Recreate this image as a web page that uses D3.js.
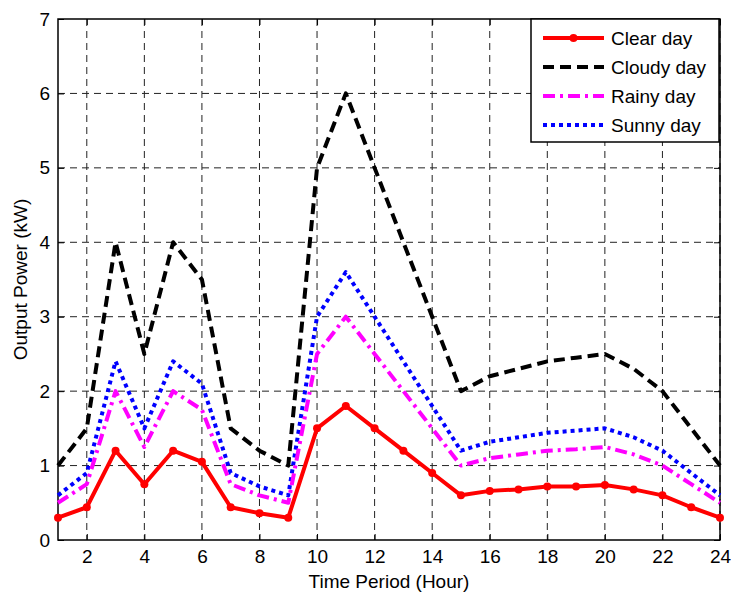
<!DOCTYPE html>
<html>
<head>
<meta charset="utf-8">
<script src="https://cdn.jsdelivr.net/npm/d3@7"></script>
<style>
  body { margin: 0; background: #fff; }
  text { font-family: "Liberation Sans", Arial, sans-serif; }
</style>
</head>
<body>
<div id="chart"></div>
<script>
// hours on the x axis
const hours = d3.range(1, 25);

const clearDay  = [0.3, 0.44, 1.2, 0.75, 1.2, 1.05, 0.44, 0.36, 0.3, 1.5, 1.8, 1.5, 1.2, 0.9, 0.6, 0.66, 0.68, 0.72, 0.72, 0.74, 0.68, 0.6, 0.44, 0.3];
const cloudyDay = [1.0, 1.5, 4.0, 2.5, 4.0, 3.5, 1.5, 1.2, 1.0, 5.0, 6.0, 5.0, 4.0, 3.0, 2.0, 2.2, 2.3, 2.4, 2.45, 2.5, 2.3, 2.0, 1.5, 1.0];
const rainyDay  = [0.5, 0.75, 2.0, 1.25, 2.0, 1.75, 0.75, 0.6, 0.5, 2.5, 3.0, 2.5, 2.0, 1.5, 1.0, 1.1, 1.15, 1.2, 1.22, 1.25, 1.15, 1.0, 0.75, 0.5];
const sunnyDay  = [0.6, 0.9, 2.4, 1.5, 2.4, 2.1, 0.9, 0.72, 0.6, 3.0, 3.6, 3.0, 2.4, 1.8, 1.2, 1.32, 1.38, 1.44, 1.47, 1.5, 1.38, 1.2, 0.9, 0.6];

const xTicks = [2, 4, 6, 8, 10, 12, 14, 16, 18, 20, 22, 24];
const yTicks = [0, 1, 2, 3, 4, 5, 6, 7];

const series = [
    {name: "Clear day",  values: clearDay,  color: "#ff0000", dash: null,       width: 4, marker: true},
    {name: "Cloudy day", values: cloudyDay, color: "#000000", dash: "11,6",     width: 4, marker: false},
    {name: "Rainy day",  values: rainyDay,  color: "#ff00ff", dash: "12,5,3,5", width: 4, marker: false},
    {name: "Sunny day",  values: sunnyDay,  color: "#0000ff", dash: "4,4",      width: 4, marker: false}
];

var W = 731, H = 594;
var margin = {top: 19, right: 11, bottom: 54, left: 58},
    width = W - margin.left - margin.right,
    height = H - margin.top - margin.bottom;

var svg = d3.select("#chart")
    .append("svg")
    .attr("width", W)
    .attr("height", H);

var g = svg.append("g")
    .attr("transform", "translate(" + margin.left + "," + margin.top + ")");

var x = d3.scaleLinear().domain([1, 24]).range([0, width]);
var y = d3.scaleLinear().domain([0, 7]).range([height, 0]);

// grid
g.append("g").selectAll("line")
    .data(xTicks)
    .enter().append("line")
    .attr("x1", d => x(d)).attr("x2", d => x(d))
    .attr("y1", 0).attr("y2", height)
    .attr("stroke", "#222").attr("stroke-width", 1)
    .attr("stroke-dasharray", "7,5");

g.append("g").selectAll("line")
    .data(yTicks.slice(1, -1))
    .enter().append("line")
    .attr("x1", 0).attr("x2", width)
    .attr("y1", d => y(d)).attr("y2", d => y(d))
    .attr("stroke", "#222").attr("stroke-width", 1)
    .attr("stroke-dasharray", "7,5");

// axes with inward ticks
var fontSize = "19px";
var xAxis = g.append("g")
    .attr("transform", "translate(0," + height + ")")
    .call(d3.axisBottom(x).tickValues(xTicks).tickFormat(d3.format("d"))
        .tickSizeInner(-6).tickSizeOuter(0).tickPadding(10));
xAxis.selectAll("text").style("font-size", fontSize).attr("fill", "#000");

var yAxis = g.append("g")
    .call(d3.axisLeft(y).tickValues(yTicks).tickFormat(d3.format("d"))
        .tickSizeInner(-6).tickSizeOuter(0).tickPadding(8));
yAxis.selectAll("text").style("font-size", fontSize).attr("fill", "#000");

g.append("g")
    .call(d3.axisTop(x).tickValues(xTicks).tickSizeInner(-6).tickSizeOuter(0).tickFormat(""));
g.append("g")
    .attr("transform", "translate(" + width + ",0)")
    .call(d3.axisRight(y).tickValues(yTicks).tickSizeInner(-6).tickSizeOuter(0).tickFormat(""));

g.selectAll(".domain").remove();
g.selectAll(".tick line").attr("stroke", "#000");

// box
g.append("rect")
    .attr("x", 0).attr("y", 0)
    .attr("width", width).attr("height", height)
    .attr("fill", "none")
    .attr("stroke", "#000")
    .attr("stroke-width", 1.5);

// lines
var line = d3.line()
    .x((d, i) => x(hours[i]))
    .y(d => y(d));

var plot = g.append("g");
series.slice().reverse().forEach(function(s) {
    plot.append("path")
        .datum(s.values)
        .attr("d", line)
        .attr("fill", "none")
        .attr("stroke", s.color)
        .attr("stroke-width", s.width)
        .attr("stroke-dasharray", s.dash)
        .attr("stroke-linejoin", "round");
    if (s.marker) {
        plot.selectAll(".mk")
            .data(s.values)
            .enter().append("circle")
            .attr("cx", (d, i) => x(hours[i]))
            .attr("cy", d => y(d))
            .attr("r", 4)
            .attr("fill", s.color);
    }
});

// legend
var lg = svg.append("g").attr("transform", "translate(531,19)");
lg.append("rect")
    .attr("width", 188).attr("height", 123)
    .attr("fill", "#fff")
    .attr("stroke", "#000").attr("stroke-width", 1.5);

var item = lg.selectAll(".legend")
    .data(series)
    .enter().append("g")
    .attr("class", "legend")
    .attr("transform", (d, i) => "translate(0," + (19 + i * 29) + ")");

item.append("line")
    .attr("x1", 12).attr("x2", 73)
    .attr("stroke", d => d.color)
    .attr("stroke-width", d => d.width)
    .attr("stroke-dasharray", d => d.dash);
item.filter(d => d.marker).append("circle")
    .attr("cx", 42.5).attr("r", 4)
    .attr("fill", d => d.color);
item.append("text")
    .attr("x", 80)
    .attr("dy", "0.35em")
    .style("font-size", fontSize)
    .text(d => d.name);

// axis labels
svg.append("text")
    .attr("x", margin.left + width / 2)
    .attr("y", 588)
    .attr("text-anchor", "middle")
    .style("font-size", fontSize)
    .text("Time Period (Hour)");

svg.append("text")
    .attr("transform", "translate(20," + (margin.top + height / 2) + ") rotate(-90)")
    .attr("text-anchor", "middle")
    .attr("dy", "0.35em")
    .style("font-size", fontSize)
    .text("Output Power (kW)");
</script>
</body>
</html>
